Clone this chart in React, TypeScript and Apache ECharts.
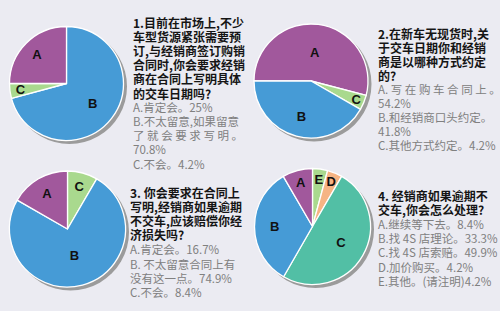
import React, { useEffect, useRef } from "react";
import * as echarts from "echarts";

// ---- data ----
const labels1 = ["A", "B", "C"];
const values1 = [25, 70.8, 4.2];
const labels2 = ["A", "B", "C"];
const values2 = [54.2, 41.8, 4.2];
const labels3 = ["A", "B", "C"];
const values3 = [16.7, 74.9, 8.4];
const labels4 = ["A", "B", "C", "D", "E"];
const values4 = [8.4, 33.3, 49.9, 4.2, 4.2];

const title1 = ["1.目前在市场上,不少", "车型货源紧张需要预", "订,与经销商签订购销", "合同时,你会要求经销", "商在合同上写明具体", "的交车日期吗?"];
const answers1 = ["A.肯定会。25%", "B.不太留意,如果留意", "了 就 会 要 求 写 明 。", "70.8%", "C.不会。4.2%"];
const title2 = ["2.在新车无现货时,关", "于交车日期你和经销", "商是以哪种方式约定", "的?"];
const answers2 = ["A. 写 在 购 车 合 同 上 。", "54.2%", "B.和经销商口头约定。", "41.8%", "C.其他方式约定。4.2%"];
const title3 = ["3. 你会要求在合同上", "写明,经销商如果逾期", "不交车,应该赔偿你经", "济损失吗?"];
const answers3 = ["A.肯定会。16.7%", "B. 不太留意合同上有", "没有这一点。74.9%", "C.不会。8.4%"];
const title4 = ["4. 经销商如果逾期不", "交车,你会怎么处理?"];
const answers4 = ["A.继续等下去。8.4%", "B.找 4S 店理论。33.3%", "C.找 4S 店索赔。49.9%", "D.加价购买。4.2%", "E.其他。(请注明)4.2%"];

// ---- styles / layout ----
const COLORS: Record<string, string> = {
  A: "#a1589c",
  B: "#469bd6",
  C: "#a9d98e",
};
const COLORS4: Record<string, string> = {
  A: "#a1589c",
  B: "#469bd6",
  C: "#52bfa5",
  D: "#f6b484",
  E: "#a9d98e",
};

type PieCfg = {
  labels: string[];
  values: number[];
  order: number[];
  start: number;
  center: [number, number];
  r: number;
  ratios: number[];
  colors: Record<string, string>;
};

const pies: PieCfg[] = [
  { labels: labels1, values: values1, order: [1, 2, 0], start: 90, center: [66.5, 83.5], r: 57, ratios: [0.76, 0.6, 0.85], colors: COLORS },
  { labels: labels2, values: values2, order: [0, 2, 1], start: 180, center: [311, 81], r: 57, ratios: [0.53, 0.67, 0.89], colors: COLORS },
  { labels: labels3, values: values3, order: [2, 1, 0], start: 90, center: [67.5, 229], r: 58, ratios: [0.74, 0.49, 0.8], colors: COLORS },
  { labels: labels4, values: values4, order: [4, 3, 2, 1, 0], start: 90, center: [312.5, 226.5], r: 58, ratios: [0.81, 0.68, 0.59, 0.87, 0.85], colors: COLORS4 },
];

// y = centre of first line
const blocks = [
  { x: 133, y: 22.5, lh: 14.1, title: title1, answers: answers1 },
  { x: 378, y: 33, lh: 14, title: title2, answers: answers2 },
  { x: 130, y: 192, lh: 14.3, title: title3, answers: answers3 },
  { x: 378, y: 195, lh: 14.3, title: title4, answers: answers4 },
];

const FONT = "'Noto Sans CJK SC', 'Noto Sans', sans-serif";
const INSIDE_BASE = 0.575;

export default function App() {
  const ref = useRef<HTMLDivElement>(null);
  useEffect(() => {
    document.body.style.margin = "0";
    if (!ref.current) return;
    const chart = echarts.init(ref.current, null, { renderer: "svg" });

    const series: any[] = [];
    pies.forEach((p) => {
      series.push({
        type: "pie",
        silent: true,
        center: [p.center[0] + 3, p.center[1] + 3],
        radius: [0, p.r + 0.5],
        label: { show: false },
        labelLine: { show: false },
        itemStyle: { color: "#9b9b9b" },
        data: [{ value: 1, name: "shadow" }],
        z: 1,
      });
    });
    pies.forEach((p) => {
      const data = p.order.map((i) => ({
        name: p.labels[i],
        value: p.values[i],
        itemStyle: { color: p.colors[p.labels[i]] },
      }));
      series.push({
        type: "pie",
        center: p.center,
        radius: [0, p.r],
        startAngle: p.start,
        clockwise: true,
        avoidLabelOverlap: false,
        minAngle: 0,
        itemStyle: { borderColor: "#ffffff", borderWidth: 1.3 },
        label: {
          show: true,
          position: "inside",
          formatter: "{b}",
          color: "#111",
          fontSize: 13,
          fontWeight: "bold",
          fontFamily: "'Liberation Sans', Arial, sans-serif",
        },
        labelLine: { show: false },
        labelLayout: (params: any) => {
          const orig = p.order[params.dataIndex];
          const f = p.ratios[orig];
          const rect = params.labelRect;
          const cx = rect.x + rect.width / 2;
          const cy = rect.y + rect.height / 2;
          const vx = cx - p.center[0];
          const vy = cy - p.center[1];
          const k = f / INSIDE_BASE - 1;
          return { dx: vx * k, dy: vy * k };
        },
        data,
        z: 2,
      });
    });

    const graphic: any[] = [];
    blocks.forEach((b) => {
      b.title.forEach((line, i) => {
        graphic.push({
          type: "text",
          x: b.x,
          y: b.y + i * b.lh,
          style: {
            text: line,
            font: `bold 12px ${FONT}`,
            fill: "#151515",
            verticalAlign: "middle",
          },
        });
      });
      b.answers.forEach((line, i) => {
        graphic.push({
          type: "text",
          x: b.x,
          y: b.y + (b.title.length + i) * b.lh,
          style: {
            text: line,
            font: `11.5px ${FONT}`,
            fill: "#808080",
            verticalAlign: "middle",
          },
        });
      });
    });

    chart.setOption({
      animation: false,
      backgroundColor: "#ebebf2",
      series,
      graphic,
    });
    return () => chart.dispose();
  }, []);
  return <div ref={ref} style={{ width: 500, height: 311 }} />;
}
